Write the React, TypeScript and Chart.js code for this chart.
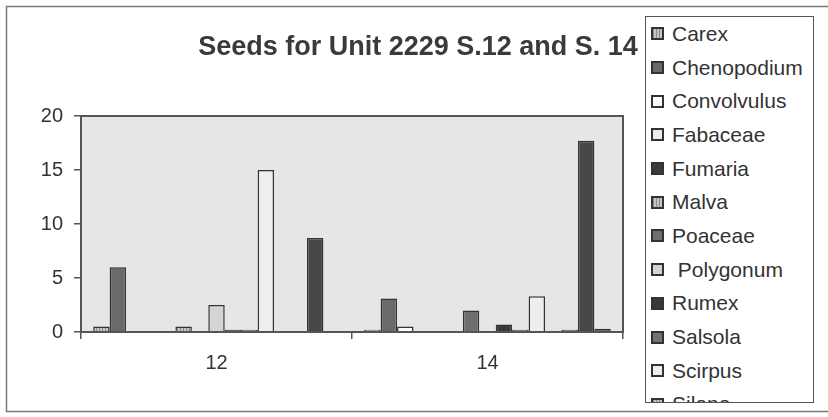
import React, { useEffect, useRef } from "react";
import { Chart, registerables } from "chart.js";

Chart.register(...registerables);

const categories = ["12", "14"];
const seriesNames = [
  "Carex",
  "Chenopodium",
  "Convolvulus",
  "Fabaceae",
  "Fumaria",
  "Malva",
  "Poaceae",
  " Polygonum",
  "Rumex",
  "Salsola",
  "Scirpus",
  "Silene",
  "Solanum",
  "Sporobolus",
  "Unknown",
];
const valuesS12 = [0.5, 6, 0, 0, 0, 0.5, 0, 2.5, 0.2, 0.2, 15, 0, 0, 8.7, 0];
const valuesS14 = [0.2, 3.1, 0.5, 0, 0.1, 0.1, 2, 0, 0.7, 0.2, 3.3, 0, 0.2, 17.7, 0.3];
const fillColors = [
  "#a8a8a8",
  "#6a6a6a",
  "#fbfbfb",
  "#ececec",
  "#3c3c3c",
  "#a8a8a8",
  "#6e6e6e",
  "#d4d4d4",
  "#383838",
  "#747474",
  "#eeeeee",
  "#a0a0a0",
  "#7a7a7a",
  "#474747",
  "#666666",
];
const hatched = [true, false, false, false, false, true, false, false, false, false, false, true, false, false, false];
const yTicks = [0, 5, 10, 15, 20];
const titleText = "Seeds for Unit 2229 S.12 and S. 14";

const FONT = "'Liberation Sans', Arial, Helvetica, sans-serif";
const TEXT = "#333333";
const LINE = "#555555";

function makeHatch(base: string): CanvasPattern | string {
  const c = document.createElement("canvas");
  c.width = 3;
  c.height = 3;
  const g = c.getContext("2d");
  if (!g) return base;
  g.fillStyle = "#c4c4c4";
  g.fillRect(0, 0, 3, 3);
  g.fillStyle = "#8a8a8a";
  g.fillRect(0, 0, 1, 3);
  const p = g.createPattern(c, "repeat");
  return p || base;
}

const framePlugin = {
  id: "frameAndPlot",
  beforeDraw(chart: any) {
    const { ctx, chartArea } = chart;
    ctx.save();
    ctx.strokeStyle = "#7a7a7a";
    ctx.lineWidth = 1.5;
    ctx.beginPath();
    ctx.moveTo(860, 6.5);
    ctx.lineTo(6.5, 6.5);
    ctx.lineTo(6.5, 411.5);
    ctx.lineTo(860, 411.5);
    ctx.stroke();
    ctx.fillStyle = "#e6e6e6";
    ctx.fillRect(chartArea.left, chartArea.top, chartArea.right - chartArea.left, chartArea.bottom - chartArea.top);
    ctx.restore();
  },
  afterDatasetsDraw(chart: any) {
    const { ctx, chartArea } = chart;
    ctx.save();
    ctx.strokeStyle = LINE;
    ctx.lineWidth = 2;
    ctx.strokeRect(chartArea.left, chartArea.top, chartArea.right - chartArea.left, chartArea.bottom - chartArea.top);
    ctx.restore();
  },
};

export default function App() {
  const canvasRef = useRef<HTMLCanvasElement | null>(null);

  useEffect(() => {
    const canvas = canvasRef.current;
    if (!canvas) return;
    const chart = new Chart(canvas, {
      type: "bar",
      data: {
        labels: categories,
        datasets: seriesNames.map((name, i) => ({
          label: name,
          data: [valuesS12[i], valuesS14[i]],
          backgroundColor: hatched[i] ? makeHatch(fillColors[i]) : fillColors[i],
          borderColor: "#333333",
          borderWidth: 1.5,
          categoryPercentage: 0.91,
          barPercentage: 1,
          yAxisID: "y",
        })),
      },
      options: {
        animation: false,
        responsive: false,
        maintainAspectRatio: false,
        layout: { padding: { left: 8, top: 0, right: 0, bottom: 0 } },
        plugins: {
          legend: { display: false },
          tooltip: { enabled: false },
          title: {
            display: true,
            text: titleText,
            color: "#3a3a3a",
            font: { family: FONT, size: 27, weight: "bold", lineHeight: 1.2 },
            padding: { top: 31, bottom: 52.6 },
          },
        },
        scales: {
          x: {
            grid: {
              display: true,
              drawOnChartArea: false,
              drawTicks: true,
              tickLength: 7,
              color: LINE,
              lineWidth: 1.5,
            },
            border: { display: true, color: LINE, width: 2 },
            ticks: { color: TEXT, font: { family: FONT, size: 20 }, padding: 12 },
            afterFit: (s: any) => {
              s.height = 85;
            },
          },
          y: {
            min: 0,
            max: 20,
            afterBuildTicks: (s: any) => {
              s.ticks = yTicks.map((v) => ({ value: v }));
            },
            grid: {
              display: true,
              drawOnChartArea: false,
              drawTicks: true,
              tickLength: 7,
              color: LINE,
              lineWidth: 1.5,
            },
            border: { display: true, color: LINE, width: 2 },
            ticks: { color: TEXT, font: { family: FONT, size: 20 }, padding: 11 },
            afterFit: (s: any) => {
              s.width = 73;
            },
          },
          yRight: {
            position: "right",
            display: true,
            grid: { display: false },
            border: { display: false },
            ticks: { display: false },
            afterFit: (s: any) => {
              s.width = 205;
            },
          },
        },
      },
      plugins: [framePlugin],
    } as any);
    return () => chart.destroy();
  }, []);

  return (
    <div style={{ position: "absolute", left: 0, top: 0, width: 828, height: 417, background: "#fff" }}>
      <canvas ref={canvasRef} width={828} height={417} style={{ display: "block" }} />
      <div
        style={{
          position: "absolute",
          left: 645,
          top: 16,
          width: 169,
          height: 387,
          boxSizing: "border-box",
          border: "1px solid #555",
          overflow: "hidden",
          background: "#fff",
          fontFamily: FONT,
          fontSize: 21,
          color: TEXT,
        }}
      >
        {seriesNames.map((name, i) => (
          <div
            key={name}
            style={{ display: "flex", alignItems: "center", height: 33.7, whiteSpace: "pre" }}
          >
            <span
              style={{
                display: "inline-block",
                boxSizing: "border-box",
                width: 13,
                height: 13,
                marginLeft: 5,
                marginRight: 8,
                border: "2px solid #333",
                background: hatched[i]
                  ? "repeating-linear-gradient(90deg, #8a8a8a 0px, #8a8a8a 1px, #c4c4c4 1px, #c4c4c4 3px)"
                  : fillColors[i],
              }}
            />
            <span>{name}</span>
          </div>
        ))}
      </div>
    </div>
  );
}
